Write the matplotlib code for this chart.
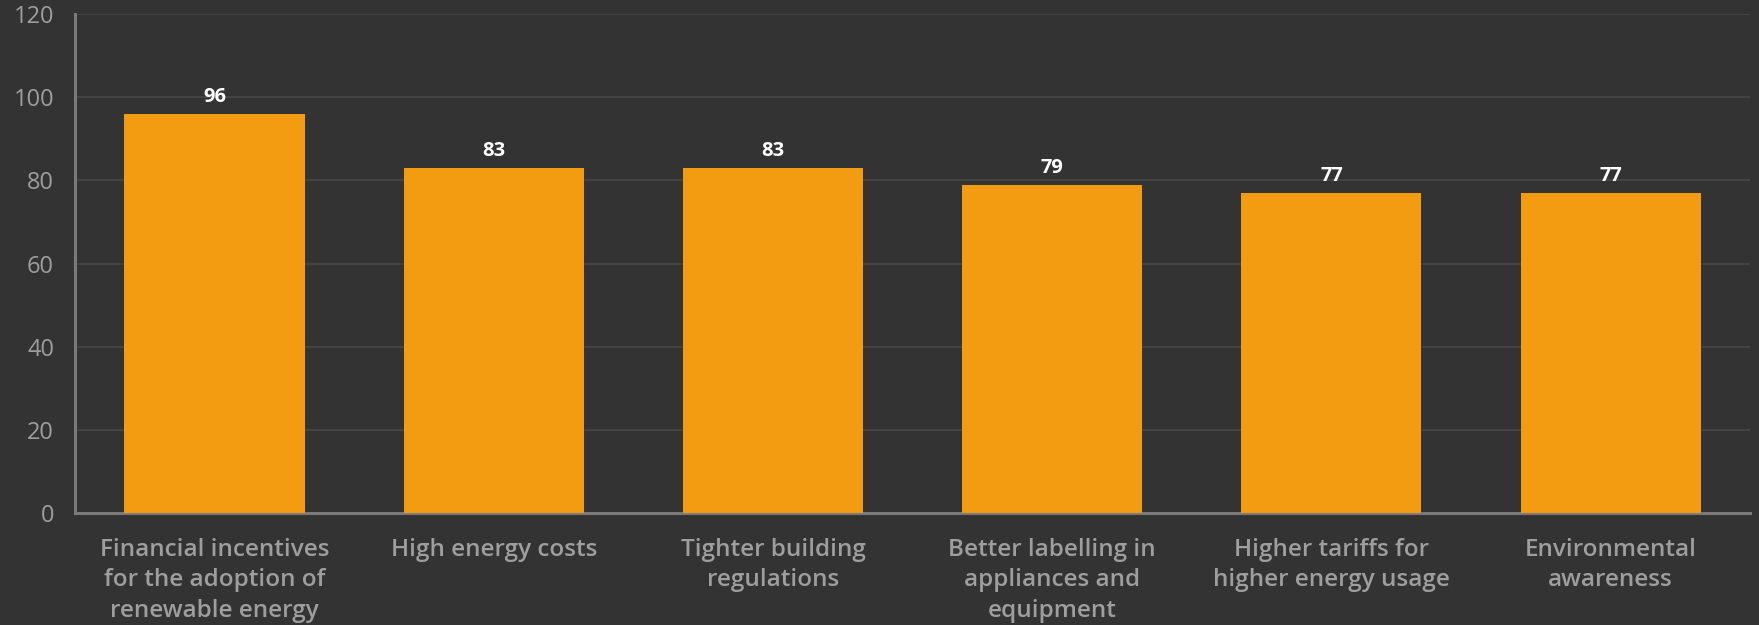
import matplotlib
matplotlib.use("Agg")
import matplotlib.pyplot as plt
import numpy as np

# Survey: drivers of energy-efficiency adoption
CATEGORIES = [
    "Financial incentives\nfor the adoption of\nrenewable energy",
    "High energy costs",
    "Tighter building\nregulations",
    "Better labelling in\nappliances and\nequipment",
    "Higher tariffs for\nhigher energy usage",
    "Environmental\nawareness",
]
VALUES = [96, 83, 83, 79, 77, 77]
Y_TICKS = [0, 20, 40, 60, 80, 100, 120]

BG = "#333333"
BAR = "#f39c12"
TEXT_GREY = "#9e9e9e"
GRID = "#474747"
SPINE = "#7a7a7a"

plt.rcParams["font.family"] = ["Open Sans", "DejaVu Sans"]

fig = plt.figure(figsize=(17.59, 6.25), dpi=100, facecolor=BG)
ax = fig.add_axes([0.0426, 0.179, 0.9524, 0.7986], facecolor=BG)

x = np.arange(len(CATEGORIES))
bars = ax.bar(x, VALUES, width=0.645, color=BAR, zorder=3)

for rect, v in zip(bars, VALUES):
    ax.annotate(f"{v}", (rect.get_x() + rect.get_width() / 2, v),
                xytext=(0, 5), textcoords="offset points",
                ha="center", va="bottom", color="white",
                fontsize=14.5, fontweight="bold", zorder=4)

ax.set_xlim(-0.5, len(CATEGORIES) - 0.5)
ax.set_ylim(0, 120)
ax.set_yticks(Y_TICKS)
ax.set_xticks(x)
ax.set_xticklabels(CATEGORIES, fontsize=17.5, color=TEXT_GREY,
                   linespacing=1.35, fontweight="semibold")
ax.tick_params(axis="x", length=0, pad=18)
ax.tick_params(axis="y", length=0, pad=15, labelsize=17, labelcolor=TEXT_GREY)

ax.yaxis.grid(True, color=GRID, linewidth=1.2, zorder=0)
ax.set_axisbelow(True)

for side in ("top", "right"):
    ax.spines[side].set_visible(False)
for side in ("left", "bottom"):
    ax.spines[side].set_color(SPINE)
    ax.spines[side].set_linewidth(2.2)

fig.savefig("out.png", dpi=100, facecolor=BG)
